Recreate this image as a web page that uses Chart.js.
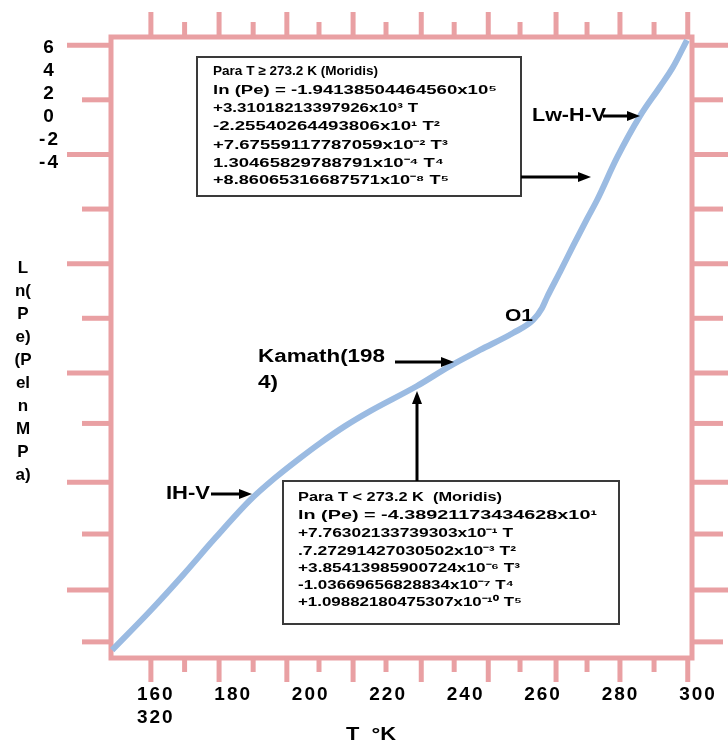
<!DOCTYPE html>
<html>
<head>
<meta charset="utf-8">
<script src="https://cdn.jsdelivr.net/npm/chart.js@4.4.1/dist/chart.umd.min.js"></script>
<style>
  html, body { margin: 0; padding: 0; background: #fff; }
  #wrap { width: 728px; height: 744px; }
</style>
</head>
<body>
<div id="wrap"><canvas id="chart" width="728" height="744"></canvas></div>
<script>
// curve: T (K) vs ln(Pe)
const tempK = [150.3, 160.1, 168.6, 176.9, 185.9, 192.3, 198.8, 204.0, 210.4, 216.9, 229.0, 237.5,
               245.3, 253.8, 259.0, 261.3, 262.6, 265.9, 269.3, 272.9, 275.5, 280.6, 286.6, 291.7,
               295.1, 298.7];
const lnPe = [-16.15, -14.72, -13.40, -12.05, -10.66, -9.85, -9.12, -8.57, -7.95, -7.40, -6.48, -5.75,
              -5.16, -4.54, -4.06, -3.62, -3.22, -2.31, -1.35, -0.36, 0.33, 1.87, 3.41, 4.47,
              5.20, 6.19];

// axis labels as printed
const xTickLabels = [160, 180, 200, 220, 240, 260, 280, 300];
const yTickLabels = [6, 4, 2, 0, -2, -4];

// the pink tick marks on the frame (they don't line up with the labels)
const xMarks = [160.3, 169, 177.9, 186.7, 195.4, 203.7, 212.5, 221, 230.1, 238.6, 247.4, 255.6,
                264.9, 272.9, 281.4, 290.2, 298.9];
const yMarks = [6, 4, 2, 0, -2, -4, -6, -7.85, -10, -11.9, -13.95, -15.85];

const boxHigh = [
  'Para T \u2265 273.2 K (Moridis)',
  'ln (Pe) = -1.94138504464560x10\u2075',
  '+3.31018213397926x10\u00b3 T',
  '-2.25540264493806x10\u00b9 T\u00b2',
  '+7.67559117787059x10\u207b\u00b2 T\u00b3',
  '1.30465829788791x10\u207b\u2074 T\u2074',
  '+8.86065316687571x10\u207b\u2078 T\u2075'
];
const boxLow = [
  'Para T < 273.2 K  (Moridis)',
  'ln (Pe) = -4.38921173434628x10\u00b9',
  '+7.76302133739303x10\u207b\u00b9 T',
  '.7.27291427030502x10\u207b\u00b3 T\u00b2',
  '+3.85413985900724x10\u207b\u2076 T\u00b3',
  '-1.03669656828834x10\u207b\u2077 T\u2074',
  '+1.09882180475307x10\u207b\u00b9\u2070 T\u2075'
];
const yTitle = ['L', 'n(', 'P', 'e)', '(P', 'el', 'n', 'M', 'P', 'a)'];

const PINK = '#e9a0a3';
const BLUE = '#9bbbe2';
const FONT = '"Liberation Sans", Arial, sans-serif';

function text(ctx, s, x, y, size, w) {
  ctx.font = `bold ${size}px ${FONT}`;
  ctx.textBaseline = 'middle';
  ctx.textAlign = 'left';
  if (!w) { ctx.fillText(s, x, y); return; }
  const m = ctx.measureText(s).width;
  ctx.save();
  ctx.translate(x, y);
  ctx.scale(w / m, 1);
  ctx.fillText(s, 0, 0);
  ctx.restore();
}

function arrow(ctx, x1, y1, x2, y2) {
  const a = Math.atan2(y2 - y1, x2 - x1);
  const hl = 13, hw = 5;
  const bx = x2 - hl * Math.cos(a), by = y2 - hl * Math.sin(a);
  ctx.lineWidth = 3;
  ctx.beginPath();
  ctx.moveTo(x1, y1);
  ctx.lineTo(bx, by);
  ctx.stroke();
  ctx.beginPath();
  ctx.moveTo(x2, y2);
  ctx.lineTo(bx + hw * Math.sin(a), by - hw * Math.cos(a));
  ctx.lineTo(bx - hw * Math.sin(a), by + hw * Math.cos(a));
  ctx.closePath();
  ctx.fill();
}

function noPad(s) {
  s.paddingTop = 0;
  s.paddingBottom = 0;
  s.paddingLeft = 0;
  s.paddingRight = 0;
}

const framePlugin = {
  id: 'frame',
  beforeDraw(chart) {
    chart.ctx.letterSpacing = '2px';
  },
  beforeDatasetsDraw(chart) {
    const { ctx, chartArea: a } = chart;
    const x = chart.scales.x, y = chart.scales.y;
    ctx.save();
    ctx.strokeStyle = PINK;
    ctx.lineWidth = 5;
    ctx.strokeRect(a.left, a.top, a.right - a.left, a.bottom - a.top);
    const seg = (x1, y1, x2, y2) => {
      ctx.beginPath(); ctx.moveTo(x1, y1); ctx.lineTo(x2, y2); ctx.stroke();
    };
    xMarks.forEach((v, i) => {
      const px = x.getPixelForValue(v);
      const long = i % 2 === 0;
      seg(px, a.bottom, px, a.bottom + (long ? 24 : 14));
      seg(px, a.top, px, a.top - (long ? 25 : 15));
    });
    yMarks.forEach((v, i) => {
      const py = y.getPixelForValue(v);
      const long = i % 2 === 0;
      seg(a.left - (long ? 44 : 29), py, a.left, py);
      seg(a.right, py, a.right + (long ? 36 : 31), py);
    });
    ctx.restore();
  },
  afterDatasetsDraw(chart) {
    const ctx = chart.ctx;
    ctx.save();
    ctx.letterSpacing = '0px';
    ctx.fillStyle = '#000';
    ctx.strokeStyle = '#000';

    // upper formula box
    ctx.fillStyle = '#fff';
    ctx.fillRect(197, 57, 324, 139);
    ctx.strokeStyle = '#3a3a3a';
    ctx.lineWidth = 2;
    ctx.strokeRect(197, 57, 324, 139);
    ctx.fillStyle = '#000';
    const hiY = [71, 90, 108, 126, 145, 163, 180];
    const hiW = [165, 284, 205, 227, 235, 231, 236];
    boxHigh.forEach((s, i) => text(ctx, s, 213, hiY[i], 13, hiW[i]));

    // lower formula box
    ctx.fillStyle = '#fff';
    ctx.fillRect(283, 481, 336, 143);
    ctx.strokeRect(283, 481, 336, 143);
    ctx.fillStyle = '#000';
    const loY = [497, 515, 533, 551, 568, 585, 602];
    const loW = [204, 299, 215, 218, 222, 216, 224];
    boxLow.forEach((s, i) => text(ctx, s, 298, loY[i], 13, loW[i]));

    // arrows
    ctx.strokeStyle = '#000';
    arrow(ctx, 521, 177, 591, 177);
    arrow(ctx, 603, 116, 640, 116);
    arrow(ctx, 395, 362, 454, 362);
    arrow(ctx, 417, 481, 417, 391);
    arrow(ctx, 211, 494, 252, 494);

    // phase labels
    text(ctx, 'Lw-H-V', 532, 116, 19, 74);
    text(ctx, 'Kamath(198', 258, 357, 18, 127);
    text(ctx, '4)', 258, 383, 18, 20);
    text(ctx, 'IH-V', 166, 494, 18, 44);
    text(ctx, 'O1', 505, 317, 16, 28);

    // axis titles
    text(ctx, 'T  \u00b0K', 346, 735, 19, 50);
    ctx.textAlign = 'center';
    ctx.font = `bold 17px ${FONT}`;
    yTitle.forEach((s, i) => ctx.fillText(s, 23, 268 + 23 * i));
    ctx.restore();
  }
};

const tickFont = { family: FONT, size: 19, weight: 'bold', lineHeight: '23px' };

new Chart(document.getElementById('chart'), {
  type: 'scatter',
  data: {
    datasets: [{
      data: tempK.map((t, i) => ({ x: t, y: lnPe[i] })),
      showLine: true,
      borderColor: BLUE,
      borderWidth: 6,
      pointRadius: 0,
      cubicInterpolationMode: 'monotone',
      clip: false
    }]
  },
  options: {
    responsive: false,
    animation: false,
    devicePixelRatio: 1,
    layout: { padding: { top: 37, right: 36, left: 0, bottom: 0 } },
    plugins: { legend: { display: false }, tooltip: { enabled: false } },
    scales: {
      x: {
        type: 'linear',
        position: 'bottom',
        min: 150,
        max: 300,
        grid: { display: false, drawTicks: false },
        border: { display: false },
        afterBuildTicks: s => { s.ticks = xTickLabels.map(v => ({ value: v })); },
        afterFit: s => { s.height = 86; noPad(s); },
        ticks: {
          font: tickFont,
          color: '#000',
          padding: 25,
          labelOffset: 6,
          maxRotation: 0,
          autoSkip: false,
          callback: v => v === 160 ? ['160', '320'] : String(v)
        }
      },
      y: {
        type: 'linear',
        display: false,
        min: -16.44,
        max: 6.3
      },
      yl: {
        type: 'linear',
        position: 'left',
        min: -47.04,
        max: 6.96,
        grid: { display: false, drawTicks: false },
        border: { display: false },
        afterBuildTicks: s => { s.ticks = yTickLabels.map(v => ({ value: v })); },
        afterFit: s => { s.width = 111; noPad(s); },
        ticks: { font: tickFont, color: '#000', padding: 53, crossAlign: 'center', autoSkip: false }
      }
    }
  },
  plugins: [framePlugin]
});
</script>
</body>
</html>
